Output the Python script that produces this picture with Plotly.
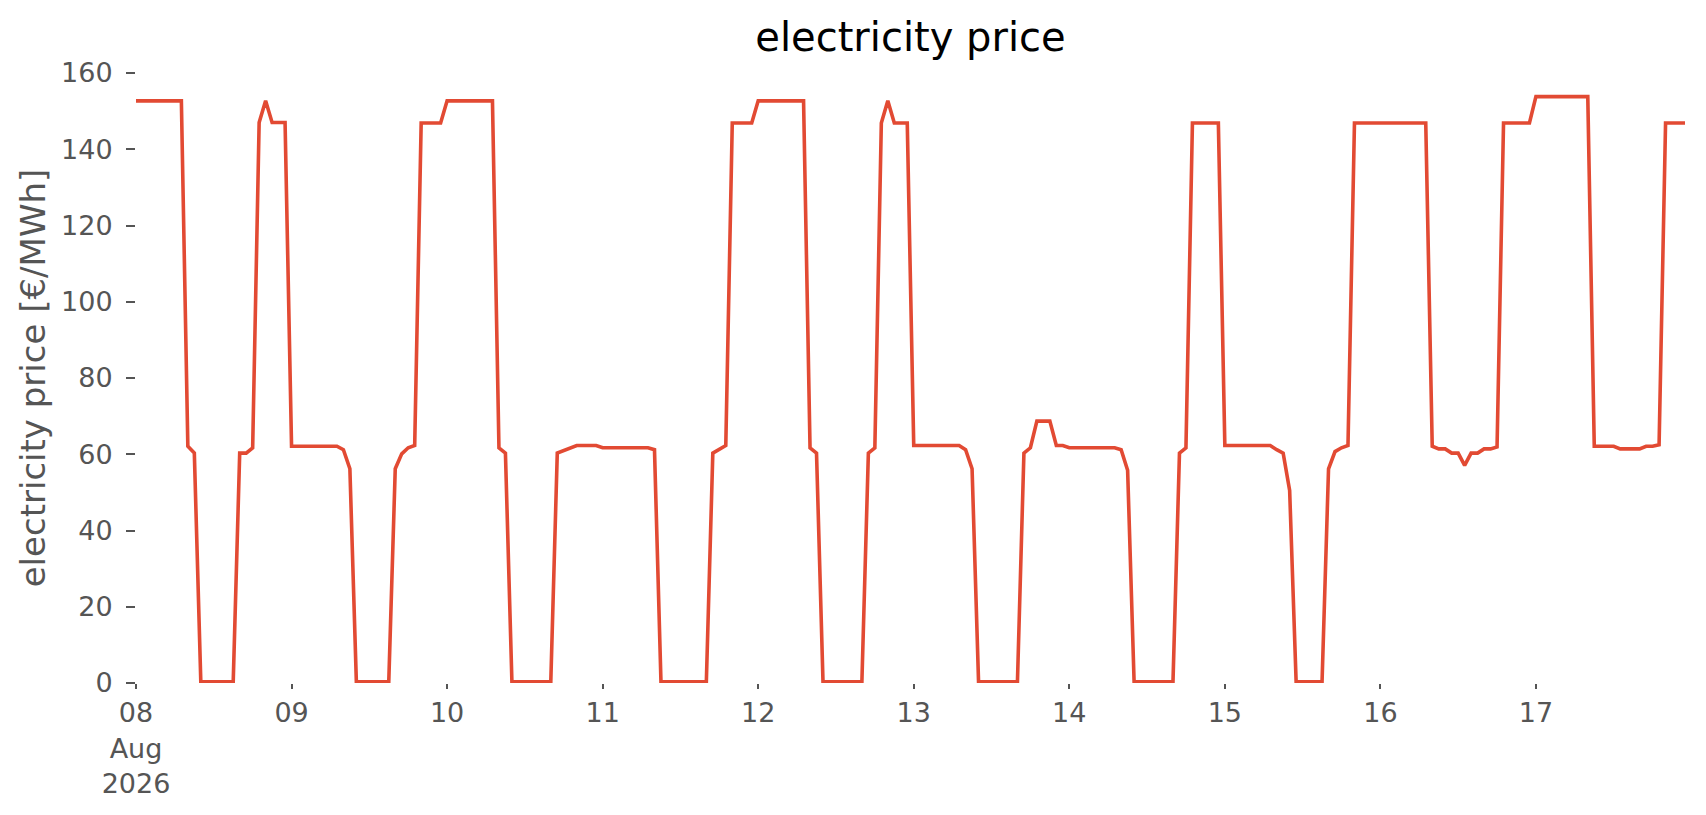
import pandas as pd
import plotly.graph_objects as go

# Hourly electricity price [€/MWh], one list per day (00:00 ... 23:00)
day_08 = [152.7, 152.7, 152.7, 152.7, 152.7, 152.7, 152.7, 152.7, 62.1, 60.3, 0.3, 0.3,
          0.3, 0.3, 0.3, 0.3, 60.3, 60.3, 61.7, 147.0, 152.7, 147.0, 147.0, 147.0]
day_09 = [62.1, 62.1, 62.1, 62.1, 62.1, 62.1, 62.1, 62.1, 61.2, 56.2, 0.3, 0.3,
          0.3, 0.3, 0.3, 0.3, 56.2, 60.1, 61.7, 62.3, 146.9, 146.9, 146.9, 146.9]
day_10 = [152.7, 152.7, 152.7, 152.7, 152.7, 152.7, 152.7, 152.7, 61.7, 60.3, 0.3, 0.3,
          0.3, 0.3, 0.3, 0.3, 0.3, 60.3, 61.0, 61.7, 62.3, 62.3, 62.3, 62.3]
day_11 = [61.7, 61.7, 61.7, 61.7, 61.7, 61.7, 61.7, 61.7, 61.2, 0.3, 0.3, 0.3,
          0.3, 0.3, 0.3, 0.3, 0.3, 60.3, 61.2, 62.3, 146.9, 146.9, 146.9, 146.9]
day_12 = [152.7, 152.7, 152.7, 152.7, 152.7, 152.7, 152.7, 152.7, 61.7, 60.3, 0.3, 0.3,
          0.3, 0.3, 0.3, 0.3, 0.3, 60.3, 61.7, 146.9, 152.7, 146.9, 146.9, 146.9]
day_13 = [62.3, 62.3, 62.3, 62.3, 62.3, 62.3, 62.3, 62.3, 61.2, 56.2, 0.3, 0.3,
          0.3, 0.3, 0.3, 0.3, 0.3, 60.3, 61.7, 68.7, 68.7, 68.7, 62.3, 62.3]
day_14 = [61.7, 61.7, 61.7, 61.7, 61.7, 61.7, 61.7, 61.7, 61.2, 55.8, 0.3, 0.3,
          0.3, 0.3, 0.3, 0.3, 0.3, 60.3, 61.7, 146.9, 146.9, 146.9, 146.9, 146.9]
day_15 = [62.3, 62.3, 62.3, 62.3, 62.3, 62.3, 62.3, 62.3, 61.2, 60.3, 50.5, 0.3,
          0.3, 0.3, 0.3, 0.3, 56.2, 60.7, 61.7, 62.3, 146.9, 146.9, 146.9, 146.9]
day_16 = [146.9, 146.9, 146.9, 146.9, 146.9, 146.9, 146.9, 146.9, 62.1, 61.4, 61.4, 60.3,
          60.3, 57.1, 60.3, 60.3, 61.4, 61.4, 61.9, 146.9, 146.9, 146.9, 146.9, 146.9]
day_17 = [153.8, 153.8, 153.8, 153.8, 153.8, 153.8, 153.8, 153.8, 153.8, 62.1, 62.1, 62.1,
          62.1, 61.4, 61.4, 61.4, 61.4, 62.1, 62.1, 62.5, 146.9, 146.9, 146.9, 146.9]

days = [day_08, day_09, day_10, day_11, day_12, day_13, day_14, day_15, day_16, day_17]
prices = [v for d in days for v in d]
times = pd.date_range("2026-08-08 00:00", periods=len(prices), freq="h")

tick_dates = pd.date_range("2026-08-08", "2026-08-17", freq="D")
tick_text = ["08<br>Aug<br>2026", "09", "10", "11", "12", "13", "14", "15", "16", "17"]
y_ticks = [0, 20, 40, 60, 80, 100, 120, 140, 160]

FONT = "DejaVu Sans"
GREY = "#555555"

fig = go.Figure()
fig.add_trace(go.Scatter(
    x=times, y=prices, mode="lines",
    line=dict(color="#E24A33", width=3.6),
    showlegend=False,
))

fig.update_layout(
    width=1698, height=807,
    margin=dict(l=128, r=21, t=65, b=132),
    paper_bgcolor="white", plot_bgcolor="white",
    font=dict(family=FONT, color=GREY),
    title=dict(text="electricity price", x=0.5, xref="paper", xanchor="center",
               y=1 - 29 / 807, yanchor="middle",
               font=dict(family=FONT, size=40, color="black")),
    xaxis=dict(
        range=[times[0], times[-1]],
        tickvals=list(tick_dates), ticktext=tick_text,
        ticks="outside", ticklen=5, tickwidth=1.5, tickcolor=GREY,
        showgrid=False, zeroline=False, showline=False,
        tickfont=dict(family=FONT, size=27, color=GREY),
        ticklabelstandoff=1,
    ),
    yaxis=dict(
        range=[0, 160],
        tickvals=y_ticks,
        ticks="outside", ticklen=9, tickwidth=1.5, tickcolor=GREY,
        showgrid=False, zeroline=False, showline=False,
        tickfont=dict(family=FONT, size=27, color=GREY),
        ticklabelstandoff=8,
        title=dict(text="electricity price [€/MWh]",
                   font=dict(family=FONT, size=34, color=GREY), standoff=5),
    ),
)

fig.write_html("out.html")
